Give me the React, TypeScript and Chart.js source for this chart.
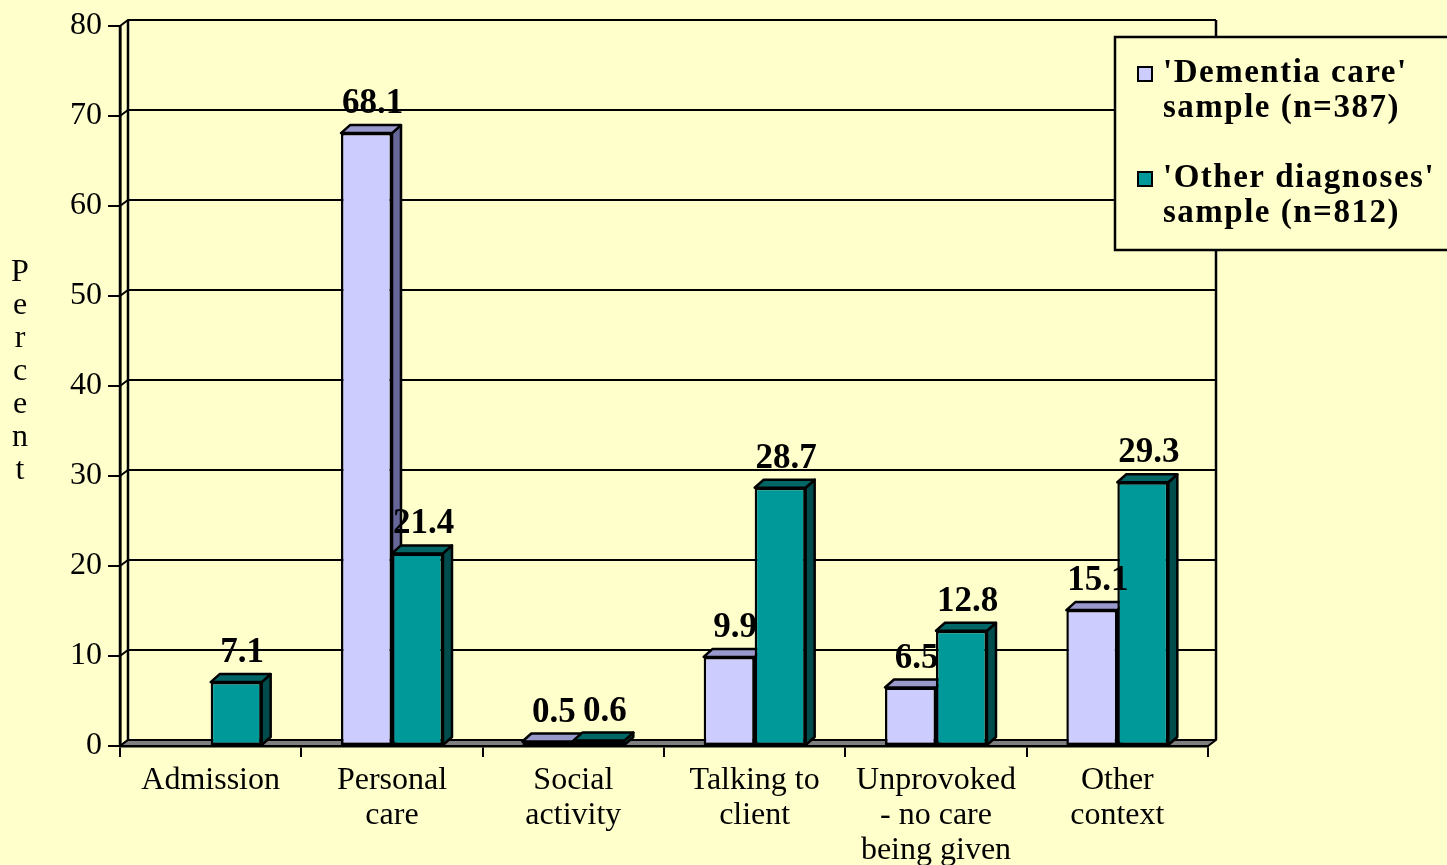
import React, { useEffect, useRef } from 'react';
import { Chart, registerables } from 'chart.js';

Chart.register(...registerables);

// ---- data ----
const categories: string[][] = [
  ['Admission'],
  ['Personal', 'care'],
  ['Social', 'activity'],
  ['Talking to', 'client'],
  ['Unprovoked', '- no care', 'being given'],
  ['Other', 'context'],
];
const dementiaValues: (number | null)[] = [null, 68.1, 0.5, 9.9, 6.5, 15.1];
const otherValues: number[] = [7.1, 21.4, 0.6, 28.7, 12.8, 29.3];
const dementiaLabel: string[] = ["'Dementia care'", 'sample (n=387)'];
const otherLabel: string[] = ["'Other diagnoses'", 'sample (n=812)'];
const yMin = 0;
const yMax = 80;
const yStep = 10;
const yTitle = 'Percent';

// ---- styles ----
const FONT = '"Liberation Serif", "Times New Roman", serif';
const BG = '#FFFFCC';
const faceColors = [
  { front: '#CCCCFF', top: '#9999CC', side: '#666699' },
  { front: '#009999', top: '#006666', side: '#004C4C' },
];
const WALL_DX = 8;
const WALL_DY = 6;
const BAR_DX = 9;
const BAR_DY = 8;

const poly = (ctx: CanvasRenderingContext2D, pts: number[][], fill: string, lw = 2) => {
  ctx.beginPath();
  ctx.moveTo(pts[0][0], pts[0][1]);
  for (let i = 1; i < pts.length; i++) ctx.lineTo(pts[i][0], pts[i][1]);
  ctx.closePath();
  ctx.fillStyle = fill;
  ctx.fill();
  ctx.lineWidth = lw;
  ctx.strokeStyle = '#000';
  ctx.lineJoin = 'round';
  ctx.stroke();
};

const frame3d = {
  id: 'frame3d',
  beforeDraw(chart: any) {
    const { ctx, width, height } = chart;
    ctx.save();
    ctx.fillStyle = BG;
    ctx.fillRect(0, 0, width, height);
    ctx.restore();
  },
  beforeDatasetsDraw(chart: any) {
    const { ctx, chartArea } = chart;
    const y = chart.scales.y;
    const x0 = chartArea.left;
    const x1 = chartArea.right;
    const yTop = y.getPixelForValue(yMax);
    const yBot = y.getPixelForValue(yMin);
    ctx.save();
    ctx.strokeStyle = '#000';
    for (let v = yMin; v <= yMax; v += yStep) {
      const py = y.getPixelForValue(v);
      ctx.lineWidth = 2;
      ctx.beginPath();
      ctx.moveTo(x0, py);
      ctx.lineTo(x0 + WALL_DX, py - WALL_DY);
      ctx.lineTo(x1 + WALL_DX, py - WALL_DY);
      ctx.stroke();
    }
    ctx.lineWidth = 2.5;
    ctx.beginPath();
    ctx.moveTo(x0 + WALL_DX, yTop - WALL_DY);
    ctx.lineTo(x0 + WALL_DX, yBot - WALL_DY);
    ctx.moveTo(x1 + WALL_DX, yTop - WALL_DY);
    ctx.lineTo(x1 + WALL_DX, yBot - WALL_DY);
    ctx.moveTo(x0, yTop);
    ctx.lineTo(x0, yBot);
    ctx.stroke();
    poly(ctx, [[x0, yBot], [x1, yBot], [x1 + WALL_DX, yBot - WALL_DY], [x0 + WALL_DX, yBot - WALL_DY]], '#808080', 2);
    chart.data.datasets.forEach((ds: any, di: number) => {
      const meta = chart.getDatasetMeta(di);
      meta.data.forEach((el: any, i: number) => {
        if (ds.data[i] === null || ds.data[i] === undefined) return;
        const { x, y: top, base, width } = el.getProps(['x', 'y', 'base', 'width'], true);
        const l = x - width / 2;
        const r = x + width / 2;
        const c = faceColors[di];
        poly(ctx, [[r, top], [r + BAR_DX, top - BAR_DY], [r + BAR_DX, base - BAR_DY], [r, base]], c.side, 2.5);
        poly(ctx, [[l, top], [r, top], [r + BAR_DX, top - BAR_DY], [l + BAR_DX, top - BAR_DY]], c.top, 2.5);
      });
    });
    ctx.restore();
  },
  afterDatasetsDraw(chart: any) {
    const { ctx } = chart;
    ctx.save();
    ctx.fillStyle = '#000';
    ctx.font = `bold 35px ${FONT}`;
    ctx.textAlign = 'center';
    ctx.textBaseline = 'alphabetic';
    chart.data.datasets.forEach((ds: any, di: number) => {
      const meta = chart.getDatasetMeta(di);
      meta.data.forEach((el: any, i: number) => {
        const v = ds.data[i];
        if (v === null || v === undefined) return;
        ctx.fillText(v.toFixed(1), el.x + 6, el.y - 20);
      });
    });
    ctx.restore();
  },
  afterDraw(chart: any) {
    const { ctx, width } = chart;
    ctx.save();
    ctx.fillStyle = '#000';
    ctx.font = `32px ${FONT}`;
    ctx.textAlign = 'center';
    ctx.textBaseline = 'alphabetic';
    yTitle.split('').forEach((ch, i) => {
      ctx.fillText(ch, 20, 281 + i * 33);
    });
    const lx = 1115;
    const ly = 37;
    ctx.fillStyle = BG;
    ctx.fillRect(lx, ly, width - lx + 10, 213);
    ctx.lineWidth = 2.5;
    ctx.strokeStyle = '#000';
    ctx.strokeRect(lx, ly, width - lx + 10, 213);
    const entries = [dementiaLabel, otherLabel];
    ctx.font = `bold 33px ${FONT}`;
    ctx.textAlign = 'left';
    try { (ctx as any).letterSpacing = '1.5px'; } catch (e) { /* ignore */ }
    entries.forEach((lines, k) => {
      const base = 82 + k * 105;
      ctx.fillStyle = faceColors[k].front;
      ctx.fillRect(1138, base - 15, 14, 14);
      ctx.lineWidth = 2;
      ctx.strokeStyle = '#000';
      ctx.strokeRect(1138, base - 15, 14, 14);
      ctx.fillStyle = '#000';
      lines.forEach((t, j) => ctx.fillText(t, 1163, base + j * 35));
    });
    ctx.restore();
  },
};

export default function App() {
  const ref = useRef<HTMLCanvasElement | null>(null);
  useEffect(() => {
    document.body.style.margin = '0';
    if (!ref.current) return;
    const chart = new Chart(ref.current, {
      type: 'bar',
      data: {
        labels: categories,
        datasets: [
          {
            label: dementiaLabel.join(' '),
            data: dementiaValues,
            backgroundColor: faceColors[0].front,
            borderColor: '#000',
            borderWidth: 2.5,
            borderSkipped: false,
            categoryPercentage: 0.5625,
            barPercentage: 1,
          },
          {
            label: otherLabel.join(' '),
            data: otherValues,
            backgroundColor: faceColors[1].front,
            borderColor: '#000',
            borderWidth: 2.5,
            borderSkipped: false,
            categoryPercentage: 0.5625,
            barPercentage: 1,
          },
        ],
      },
      options: {
        responsive: false,
        animation: false,
        devicePixelRatio: 1,
        layout: { padding: { top: 26, right: 239, left: 0, bottom: 0 } },
        plugins: {
          legend: { display: false },
          tooltip: { enabled: false },
        },
        scales: {
          x: {
            offset: true,
            grid: {
              display: true,
              offset: true,
              drawOnChartArea: false,
              drawTicks: true,
              tickLength: 11,
              color: '#000',
              lineWidth: 2,
            },
            border: { display: true, color: '#000', width: 2.5 },
            ticks: {
              color: '#000',
              font: { family: FONT, size: 32, lineHeight: 1.09 },
              padding: 6,
              maxRotation: 0,
              autoSkip: false,
            },
            afterFit: (s: any) => {
              s.height = 119;
            },
          },
          y: {
            min: yMin,
            max: yMax,
            ticks: {
              stepSize: yStep,
              color: '#000',
              font: { family: FONT, size: 32 },
              padding: 6,
            },
            grid: {
              drawOnChartArea: false,
              drawTicks: true,
              tickLength: 12,
              color: '#000',
              lineWidth: 2,
            },
            border: { display: true, color: '#000', width: 2.5 },
            afterFit: (s: any) => {
              s.width = 120;
            },
          },
        },
      },
      plugins: [frame3d],
    });
    return () => chart.destroy();
  }, []);
  return (
    <canvas ref={ref} width={1447} height={865} style={{ display: 'block' }} />
  );
}
